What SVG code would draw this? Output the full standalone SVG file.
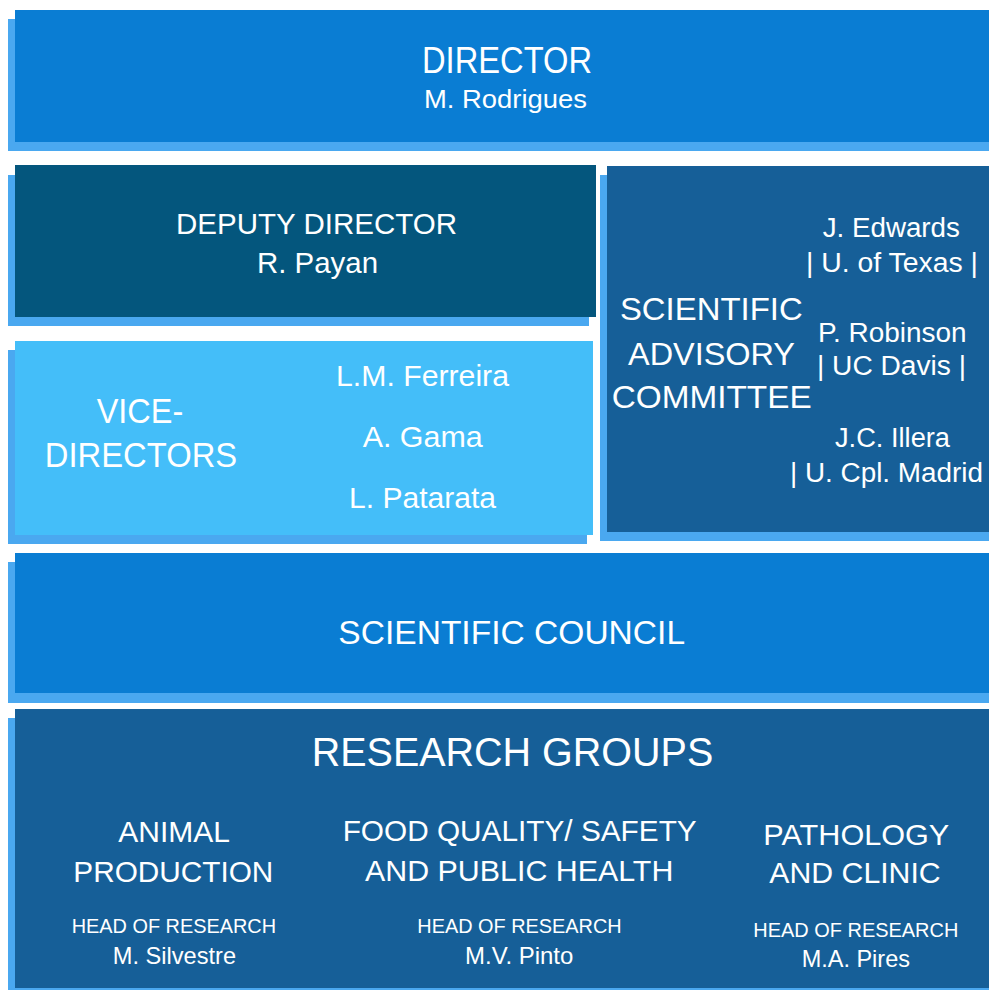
<svg xmlns="http://www.w3.org/2000/svg" width="989" height="990" viewBox="0 0 989 990">
<style>
.sh{fill:#4aa8f0}
.mid{fill:#0a7dd3}
.dark{fill:#04567d}
.light{fill:#44bef9}
.navy{fill:#165f98}
text{font-family:"Liberation Sans",Arial,sans-serif;fill:#ffffff;text-anchor:middle}
</style>
<rect width="989" height="990" fill="#ffffff"/>
<g id="director">
<rect class="sh" x="8" y="19" width="990" height="132"/>
<rect class="mid" x="15" y="10" width="980" height="132"/>
<text x="507" y="73" font-size="36" textLength="170" lengthAdjust="spacingAndGlyphs">DIRECTOR</text>
<text x="505.5" y="107.5" font-size="25" textLength="163" lengthAdjust="spacingAndGlyphs">M. Rodrigues</text>
</g>
<g id="deputy">
<rect class="sh" x="8" y="175" width="581" height="151"/>
<rect class="dark" x="15" y="165" width="581" height="152"/>
<text x="316.5" y="234" font-size="30" textLength="281" lengthAdjust="spacingAndGlyphs">DEPUTY DIRECTOR</text>
<text x="317.5" y="272.7" font-size="29" textLength="121" lengthAdjust="spacingAndGlyphs">R. Payan</text>
</g>
<g id="vice">
<rect class="sh" x="8" y="350" width="579" height="194"/>
<rect class="light" x="15" y="341" width="578" height="194"/>
<text x="140" y="422.7" font-size="35" textLength="86.6" lengthAdjust="spacingAndGlyphs">VICE-</text>
<text x="141" y="466.7" font-size="35" textLength="192.3" lengthAdjust="spacingAndGlyphs">DIRECTORS</text>
<text x="422.5" y="386" font-size="29" textLength="173" lengthAdjust="spacingAndGlyphs">L.M. Ferreira</text>
<text x="422.7" y="447.3" font-size="29" textLength="120" lengthAdjust="spacingAndGlyphs">A. Gama</text>
<text x="422.5" y="508.3" font-size="29" textLength="147" lengthAdjust="spacingAndGlyphs">L. Patarata</text>
</g>
<g id="advisory">
<rect class="sh" x="600" y="175" width="400" height="366"/>
<rect class="navy" x="607" y="166" width="390" height="366"/>
<text x="711.3" y="320" font-size="32" textLength="182.7" lengthAdjust="spacingAndGlyphs">SCIENTIFIC</text>
<text x="711.5" y="365" font-size="32" textLength="167" lengthAdjust="spacingAndGlyphs">ADVISORY</text>
<text x="711.7" y="408.3" font-size="32" textLength="200" lengthAdjust="spacingAndGlyphs">COMMITTEE</text>
<text x="891.3" y="236.7" font-size="27" textLength="137.3" lengthAdjust="spacingAndGlyphs">J. Edwards</text>
<text x="892" y="271.7" font-size="27" textLength="172" lengthAdjust="spacingAndGlyphs">| U. of Texas |</text>
<text x="892.3" y="341.7" font-size="27" textLength="148.7" lengthAdjust="spacingAndGlyphs">P. Robinson</text>
<text x="891.5" y="375" font-size="27" textLength="149" lengthAdjust="spacingAndGlyphs">| UC Davis |</text>
<text x="892.5" y="446.7" font-size="27" textLength="115" lengthAdjust="spacingAndGlyphs">J.C. Illera</text>
<text x="886.5" y="481.7" font-size="27" textLength="193" lengthAdjust="spacingAndGlyphs">| U. Cpl. Madrid</text>
</g>
<g id="council">
<rect class="sh" x="8" y="562" width="990" height="141"/>
<rect class="mid" x="15" y="553" width="980" height="140"/>
<text x="511.7" y="644.3" font-size="34" textLength="346.7" lengthAdjust="spacingAndGlyphs">SCIENTIFIC COUNCIL</text>
</g>
<g id="research">
<rect class="sh" x="8" y="718" width="990" height="280"/>
<rect class="navy" x="15" y="709" width="980" height="279"/>
<text x="512.5" y="765.5" font-size="41" textLength="401.6" lengthAdjust="spacingAndGlyphs">RESEARCH GROUPS</text>
<text x="174.2" y="841.7" font-size="29" textLength="111.7" lengthAdjust="spacingAndGlyphs">ANIMAL</text>
<text x="173.3" y="881.7" font-size="29" textLength="200" lengthAdjust="spacingAndGlyphs">PRODUCTION</text>
<text x="173.9" y="932.7" font-size="20" textLength="204.3" lengthAdjust="spacingAndGlyphs">HEAD OF RESEARCH</text>
<text x="174.4" y="964" font-size="24" textLength="123.3" lengthAdjust="spacingAndGlyphs">M. Silvestre</text>
<text x="519.7" y="840.7" font-size="29" textLength="354" lengthAdjust="spacingAndGlyphs">FOOD QUALITY/ SAFETY</text>
<text x="519.2" y="881" font-size="29" textLength="308.3" lengthAdjust="spacingAndGlyphs">AND PUBLIC HEALTH</text>
<text x="519.5" y="933.3" font-size="20" textLength="204.4" lengthAdjust="spacingAndGlyphs">HEAD OF RESEARCH</text>
<text x="519.2" y="964" font-size="24" textLength="108.3" lengthAdjust="spacingAndGlyphs">M.V. Pinto</text>
<text x="856.3" y="845" font-size="29" textLength="186" lengthAdjust="spacingAndGlyphs">PATHOLOGY</text>
<text x="855" y="883.3" font-size="29" textLength="171.4" lengthAdjust="spacingAndGlyphs">AND CLINIC</text>
<text x="855.8" y="936.7" font-size="20" textLength="205" lengthAdjust="spacingAndGlyphs">HEAD OF RESEARCH</text>
<text x="855.8" y="966.7" font-size="24" textLength="108.3" lengthAdjust="spacingAndGlyphs">M.A. Pires</text>
</g>
<g id="connectors"></g>
</svg>
